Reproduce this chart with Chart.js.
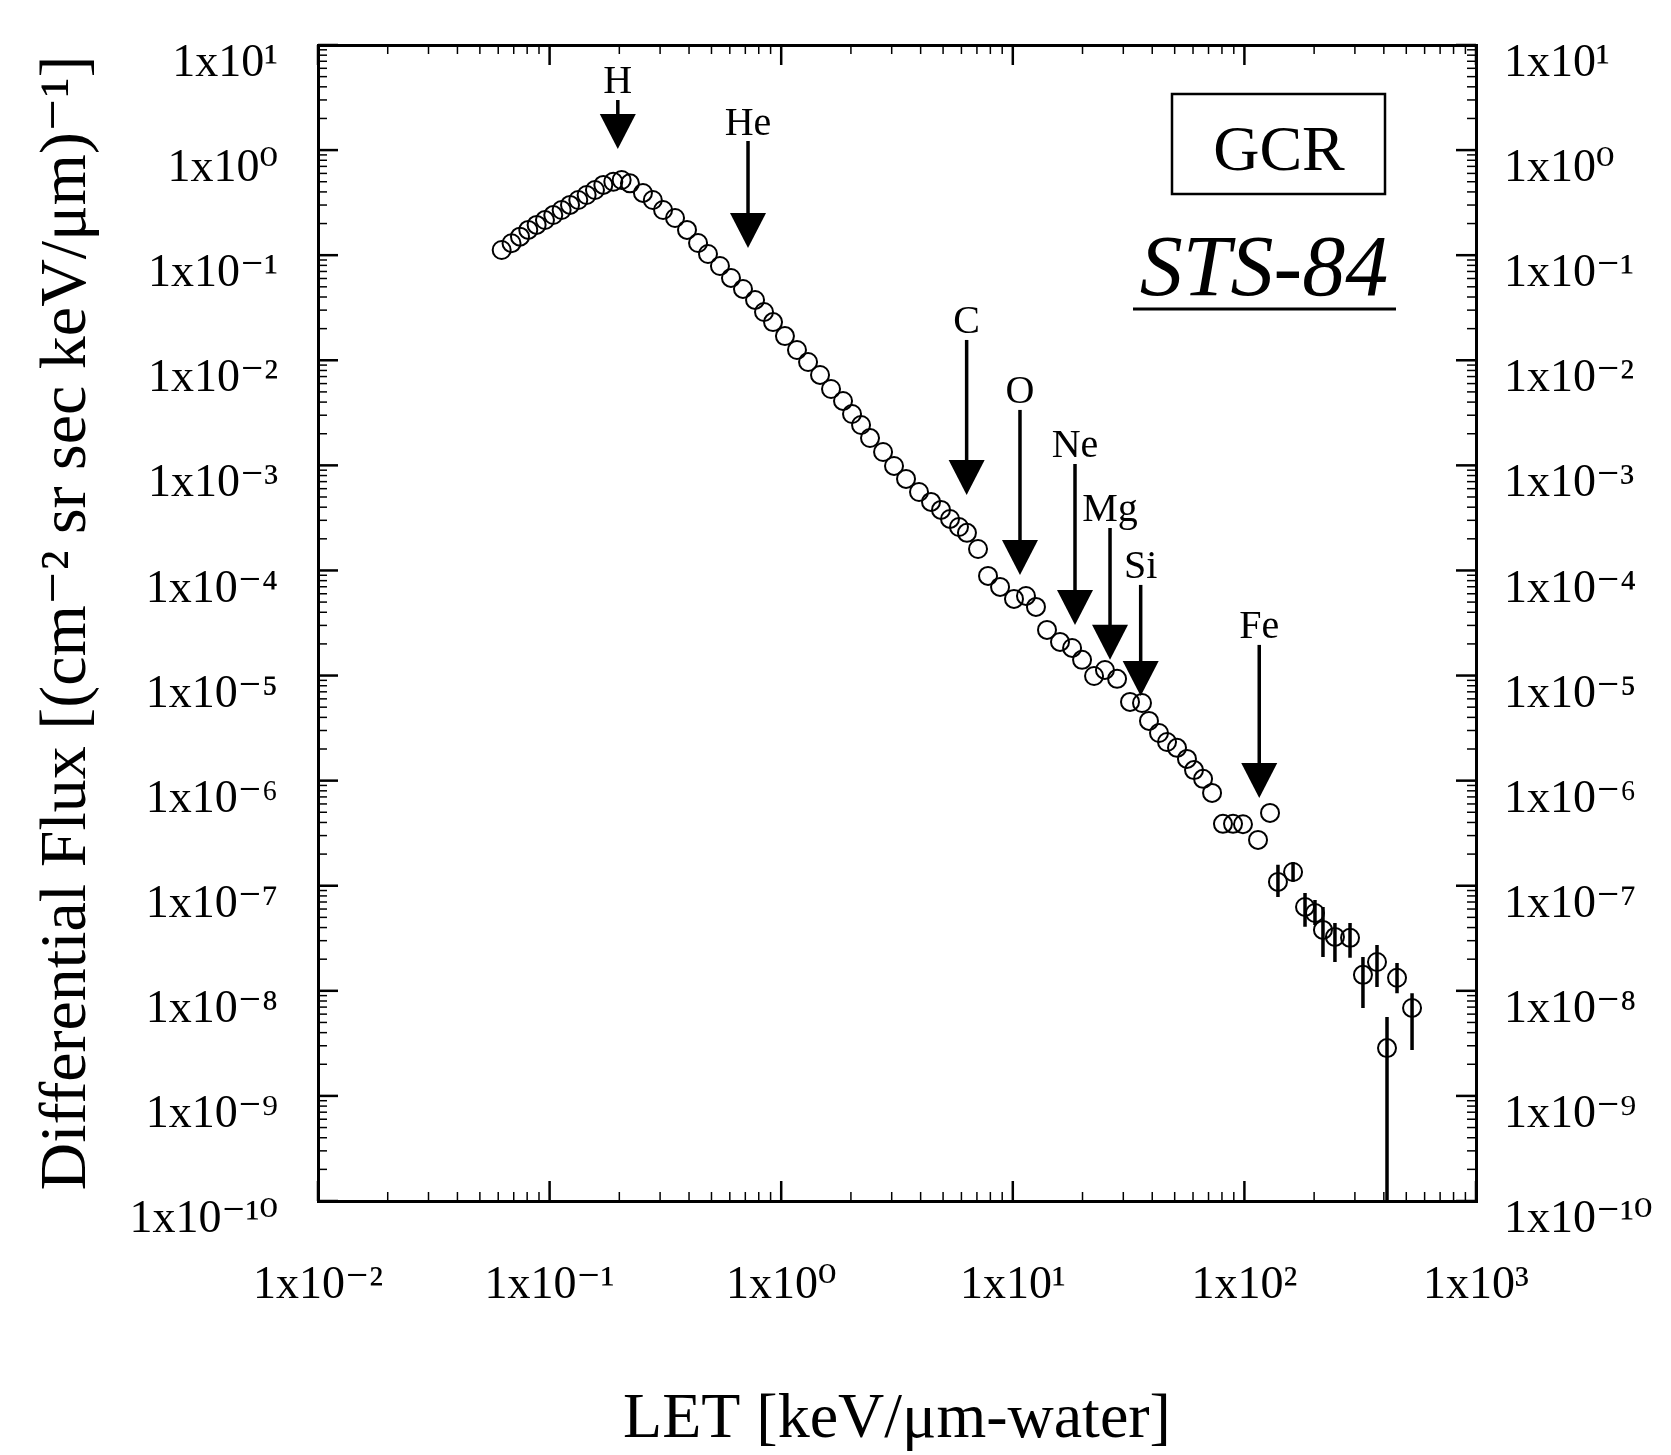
<!DOCTYPE html>
<html>
<head>
<meta charset="utf-8">
<title>GCR differential LET spectrum, STS-84</title>
<script src="https://cdn.jsdelivr.net/npm/chart.js"></script>
<style>
  html, body { margin: 0; padding: 0; background: #fff; }
  #chart { display: block; }
</style>
</head>
<body>
<canvas id="chart" width="1671" height="1455"></canvas>
<script>
// LET [keV/um-water] and differential flux
const letValues = [
  0.0621, 0.0685, 0.0745, 0.0809, 0.0879, 0.0955, 0.1037, 0.1127, 0.1225, 0.133,
  0.1445, 0.157, 0.1706, 0.1884, 0.2047, 0.2223, 0.253, 0.279, 0.309, 0.348,
  0.392, 0.4375, 0.483, 0.544, 0.607, 0.684, 0.771, 0.843, 0.922, 1.038,
  1.17, 1.306, 1.471, 1.641, 1.849, 2.022, 2.212, 2.418, 2.753, 3.07,
  3.459, 3.936, 4.435, 4.898, 5.357, 5.857, 6.34, 7.076, 7.816, 8.81,
  10.12, 11.4, 12.59, 14.05, 15.99, 18.03, 19.91, 22.43, 25.0, 28.2,
  32.07, 36.13, 38.73, 42.79, 46.33, 51.17, 56.5, 60.6, 66.3, 72.5,
  80.8, 89.3, 98.6, 114.5, 129, 139.6, 162.2, 182.7, 201.7, 218.4,
  246, 285.8, 325, 373.7, 412.8, 456, 529.5
];
const fluxValues = [
  0.112, 0.130, 0.150, 0.174, 0.194, 0.216, 0.241, 0.269, 0.301, 0.335,
  0.374, 0.417, 0.466, 0.500, 0.519, 0.483, 0.391, 0.335, 0.269, 0.226,
  0.174, 0.1306, 0.1026, 0.0789, 0.0607, 0.0477, 0.0375, 0.0288, 0.0231, 0.0170,
  0.01253, 0.00963, 0.00725, 0.00533, 0.0041, 0.00308, 0.00242, 0.00182, 0.00134, 0.000987,
  0.000743, 0.000558, 0.000449, 0.000377, 0.000309, 0.000259, 0.000228, 0.00016, 8.87e-5, 6.97e-5,
  5.36e-5, 5.72e-5, 4.50e-5, 2.72e-5, 2.09e-5, 1.83e-5, 1.41e-5, 9.9e-6, 1.13e-5, 9.3e-6,
  5.61e-6, 5.48e-6, 3.7e-6, 2.84e-6, 2.33e-6, 2.05e-6, 1.61e-6, 1.26e-6, 1.04e-6, 7.64e-7,
  3.88e-7, 3.88e-7, 3.85e-7, 2.73e-7, 4.93e-7, 1.087e-7, 1.35e-7, 6.28e-8, 5.5e-8, 3.8e-8,
  3.26e-8, 3.19e-8, 1.42e-8, 1.88e-8, 2.85e-9, 1.33e-8, 6.87e-9
];

// error bars on the high-LET points
const errLet = [139.6, 162.2, 182.7, 201.7, 218.4, 246, 285.8, 325, 373.7, 412.8, 456, 529.5];
const errLow = [7.82e-8, 1.09e-7, 4.06e-8, 4.24e-8, 2.1e-8, 1.88e-8, 2.06e-8, 6.87e-9, 1.09e-8, 1e-12, 9.5e-9, 2.74e-9];
const errHigh = [1.58e-7, 1.68e-7, 8.55e-8, 7.33e-8, 6.28e-8, 4.43e-8, 4.43e-8, 2.1e-8, 2.73e-8, 5.65e-9, 1.84e-8, 9.5e-9];

// element markers: label position and arrow tip
const elementNames = ['H', 'He', 'C', 'O', 'Ne', 'Mg', 'Si', 'Fe'];
const elementLet = [0.197, 0.719, 6.32, 10.74, 18.56, 26.29, 35.66, 115.9];
const elementLabelFlux = [4.35, 1.771, 0.02265, 4.89e-3, 1.496e-3, 3.68e-4, 1.057e-4, 2.84e-5];
const elementTipFlux = [1.024, 0.117, 5.22e-4, 9.06e-5, 3.03e-5, 1.41e-5, 6.4e-6, 6.84e-7];

// decade tick labels
const xTickExps = [-2, -1, 0, 1, 2, 3];
const yTickExps = [1, 0, -1, -2, -3, -4, -5, -6, -7, -8, -9, -10];

const serif = "'Liberation Serif', 'DejaVu Serif', serif";
const supChars = {'0':'⁰','1':'¹','2':'²','3':'³','4':'⁴','5':'⁵','6':'⁶','7':'⁷','8':'⁸','9':'⁹','-':'⁻'};

function powerLabel(exps) {
  return function(value) {
    const e = Math.round(Math.log10(value));
    if (Math.abs(value / Math.pow(10, e) - 1) > 1e-6 || !exps.includes(e)) return '';
    return '1x10' + String(e).split('').map(c => supChars[c]).join('');
  };
}

// y axes: keep the plot area where the frame is, labels may overhang
function fixVertical(width) {
  return s => { s.width = width; s.paddingTop = 0; s.paddingBottom = 0; };
}

// ticks pointing into the plot, like the original
const innerTicks = {
  id: 'innerTicks',
  afterDraw(chart) {
    const {ctx, chartArea: a} = chart;
    ctx.save();
    ctx.strokeStyle = '#000';
    ['x', 'x2', 'y', 'y2'].forEach(id => {
      const s = chart.scales[id];
      s.ticks.forEach(t => {
        const e = Math.floor(Math.log10(t.value) + 1e-9);
        const m = t.value / Math.pow(10, e);
        if (Math.abs(m - Math.round(m)) > 1e-6) return;
        const major = Math.abs(m - 1) < 1e-6 || Math.abs(m - 10) < 1e-6;
        const len = major ? 20 : 9;
        const p = s.getPixelForValue(t.value);
        ctx.lineWidth = major ? 2.5 : 1.5;
        ctx.beginPath();
        if (id === 'x') { ctx.moveTo(p, a.bottom); ctx.lineTo(p, a.bottom - len); }
        else if (id === 'x2') { ctx.moveTo(p, a.top); ctx.lineTo(p, a.top + len); }
        else if (id === 'y') { ctx.moveTo(a.left, p); ctx.lineTo(a.left + len, p); }
        else { ctx.moveTo(a.right, p); ctx.lineTo(a.right - len, p); }
        ctx.stroke();
      });
    });
    ctx.restore();
  }
};

// element arrows, GCR box and mission label
const annotations = {
  id: 'annotations',
  afterDatasetsDraw(chart) {
    const {ctx, chartArea: a, scales: {x, y}} = chart;
    ctx.save();
    ctx.fillStyle = '#000';
    ctx.strokeStyle = '#000';
    ctx.textAlign = 'center';
    ctx.textBaseline = 'middle';
    ctx.font = '40px ' + serif;
    elementNames.forEach((name, i) => {
      const px = x.getPixelForValue(elementLet[i]);
      const ly = y.getPixelForValue(elementLabelFlux[i]);
      const ty = y.getPixelForValue(elementTipFlux[i]);
      ctx.fillText(name, px, ly);
      ctx.lineWidth = 3.5;
      ctx.beginPath();
      ctx.moveTo(px, ly + 17);
      ctx.lineTo(px, ty - 30);
      ctx.stroke();
      ctx.beginPath();
      ctx.moveTo(px - 18, ty - 35);
      ctx.lineTo(px + 18, ty - 35);
      ctx.lineTo(px, ty);
      ctx.closePath();
      ctx.fill();
    });

    ctx.lineWidth = 2.5;
    ctx.strokeRect(a.right - 304, a.top + 49, 213, 100);
    ctx.font = '64px ' + serif;
    ctx.fillText('GCR', a.right - 197, a.top + 108);

    ctx.font = 'italic 86px ' + serif;
    ctx.fillText('STS-84', a.right - 212, a.top + 227);
    ctx.lineWidth = 3;
    ctx.beginPath();
    ctx.moveTo(a.right - 343, a.top + 264);
    ctx.lineTo(a.right - 80, a.top + 264);
    ctx.stroke();
    ctx.restore();
  }
};

const pointData = letValues.map((v, i) => ({x: v, y: fluxValues[i]}));
const errData = [];
errLet.forEach((v, i) => {
  errData.push({x: v, y: errLow[i]}, {x: v, y: errHigh[i]}, {x: v, y: null});
});

Chart.defaults.color = '#000';
Chart.defaults.font.family = serif;

const xRange = {min: 0.01, max: 1000};
const yRange = {min: 1e-10, max: 10};

new Chart(document.getElementById('chart'), {
  type: 'scatter',
  data: {
    datasets: [
      {
        label: 'STS-84 GCR',
        data: pointData,
        xAxisID: 'x',
        yAxisID: 'y',
        pointStyle: 'circle',
        pointRadius: 9,
        pointBorderWidth: 2,
        borderColor: '#000',
        backgroundColor: 'rgba(0,0,0,0)'
      },
      {
        label: 'error bars',
        data: errData,
        xAxisID: 'x',
        yAxisID: 'y',
        showLine: true,
        spanGaps: false,
        pointRadius: 0,
        borderWidth: 3.5,
        borderColor: '#000'
      }
    ]
  },
  options: {
    responsive: false,
    animation: false,
    devicePixelRatio: 1,
    layout: {padding: 0},
    plugins: {legend: {display: false}, tooltip: {enabled: false}},
    scales: {
      x: {
        type: 'logarithmic', position: 'bottom', ...xRange,
        grid: {display: false, drawTicks: false, lineWidth: 3},
        border: {display: true, color: '#000', width: 3},
        ticks: {autoSkip: false, maxRotation: 0, padding: 57, labelOffset: 0,
                font: {size: 46, family: serif}, callback: powerLabel(xTickExps)},
        title: {display: true, text: 'LET [keV/μm-water]', padding: {top: 0, bottom: 0},
                font: {size: 64, family: serif, lineHeight: 1.1}},
        afterFit: s => { s.height = 254; }
      },
      x2: {
        type: 'logarithmic', axis: 'x', position: 'top', ...xRange, display: true,
        grid: {display: false, drawTicks: false, lineWidth: 3},
        border: {display: true, color: '#000', width: 3},
        ticks: {display: false, autoSkip: false},
        afterFit: s => { s.height = 45; }
      },
      y: {
        type: 'logarithmic', position: 'left', ...yRange,
        grid: {display: false, drawTicks: false, lineWidth: 3},
        border: {display: true, color: '#000', width: 3},
        ticks: {autoSkip: false, padding: 40, labelOffset: 19,
                font: {size: 46, family: serif}, callback: powerLabel(yTickExps)},
        title: {display: true, text: 'Differential Flux [(cm⁻² sr sec keV/μm)⁻¹]',
                padding: {top: 28, bottom: 0}, font: {size: 66, family: serif}},
        afterFit: fixVertical(318)
      },
      y2: {
        type: 'logarithmic', axis: 'y', position: 'right', ...yRange, display: true,
        grid: {display: false, drawTicks: false, lineWidth: 3},
        border: {display: true, color: '#000', width: 3},
        ticks: {autoSkip: false, padding: 28, labelOffset: 19,
                font: {size: 46, family: serif}, callback: powerLabel(yTickExps)},
        afterFit: fixVertical(195)
      }
    }
  },
  plugins: [innerTicks, annotations]
});
</script>
</body>
</html>
